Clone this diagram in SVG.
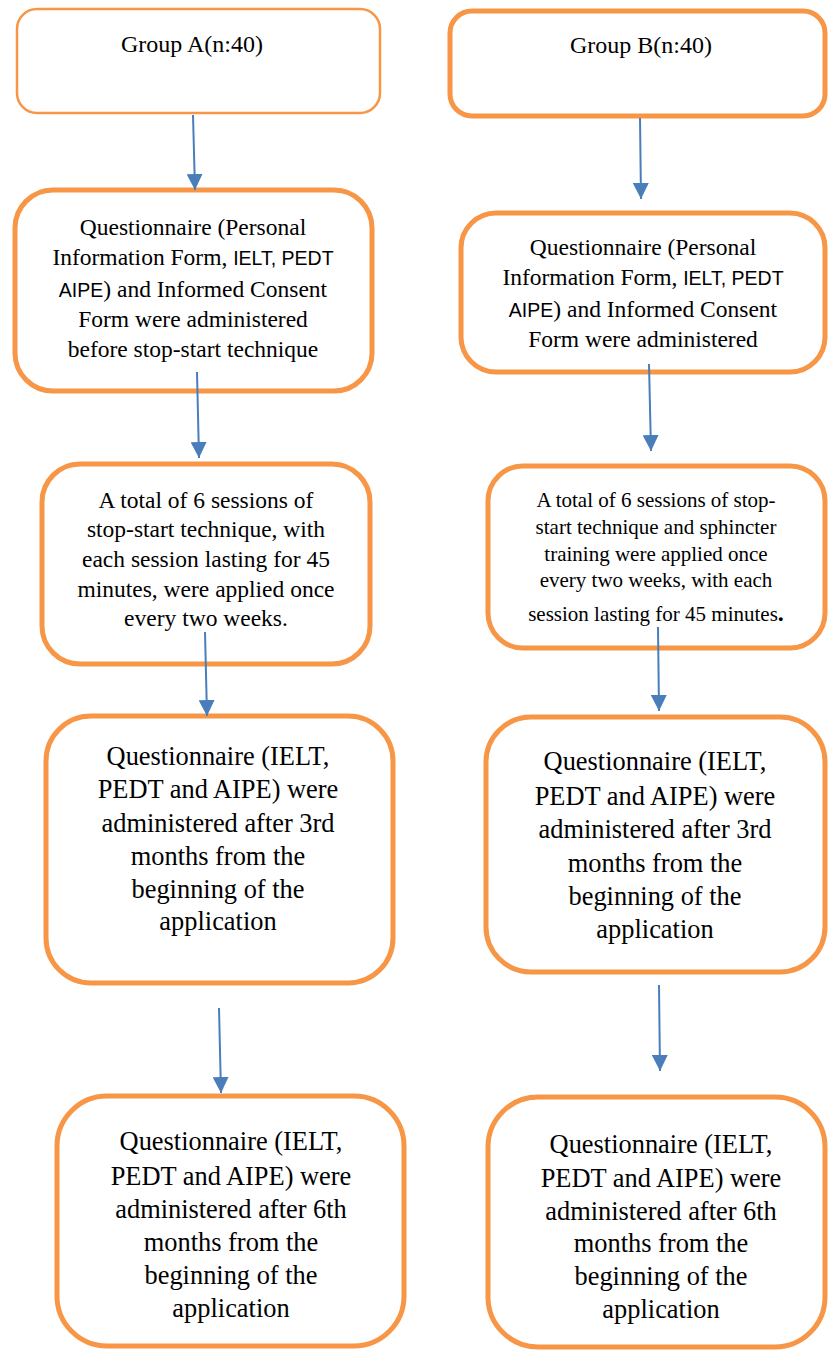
<svg xmlns="http://www.w3.org/2000/svg" width="828" height="1350" viewBox="0 0 828 1350">
<style>
.box{fill:#fff;stroke:#F79646;stroke-width:5}
.thin{stroke-width:2.5}
.t{font-family:"Liberation Serif","Times New Roman",serif;fill:#000;text-anchor:middle}
.s{font-family:"Liberation Sans",Arial,sans-serif;font-size:19.5px}
.conn{stroke:#4A7EBB;stroke-width:2;fill:none;marker-end:url(#ah)}
</style>
<defs>
<marker id="ah" markerUnits="userSpaceOnUse" markerWidth="16" markerHeight="16" viewBox="0 0 16 16" refX="16" refY="8" orient="auto">
<path d="M0,0 L16,8 L0,16 Z" fill="#4A7EBB"/>
</marker>
</defs>
<rect width="828" height="1350" fill="#fff"/>
<g id="groupA">
<rect class="box thin" x="17" y="9" width="363" height="104" rx="20"/>
<text class="t" font-size="24" x="192" y="52">Group A(n:40)</text>
</g>
<g id="groupB">
<rect class="box" x="450" y="11" width="375" height="105" rx="22"/>
<text class="t" font-size="24" x="641" y="53">Group B(n:40)</text>
</g>
<g id="a2">
<rect class="box" x="15" y="190" width="357" height="201" rx="38"/>
<text class="t" font-size="23.5"><tspan x="193" y="235">Questionnaire (Personal</tspan><tspan x="193" y="265">Information Form, <tspan class="s">IELT, PEDT</tspan></tspan><tspan x="193" y="297"><tspan class="s">AIPE</tspan>) and Informed Consent</tspan><tspan x="193" y="327">Form were administered</tspan><tspan x="193" y="357">before stop-start technique</tspan></text>
</g>
<g id="b2">
<rect class="box" x="461" y="213" width="364" height="159" rx="35"/>
<text class="t" font-size="23.5"><tspan x="643" y="255">Questionnaire (Personal</tspan><tspan x="643" y="285">Information Form, <tspan class="s">IELT, PEDT</tspan></tspan><tspan x="643" y="317"><tspan class="s">AIPE</tspan>) and Informed Consent</tspan><tspan x="643" y="347">Form were administered</tspan></text>
</g>
<g id="a3">
<rect class="box" x="42" y="464" width="328" height="200" rx="38"/>
<text class="t" font-size="23.5"><tspan x="206" y="508">A total of 6 sessions of</tspan><tspan x="206" y="537">stop-start technique, with</tspan><tspan x="206" y="567">each session lasting for 45</tspan><tspan x="206" y="597">minutes, were applied once</tspan><tspan x="206" y="626">every two weeks.</tspan></text>
</g>
<g id="b3">
<rect class="box" x="488" y="466" width="337" height="182" rx="35"/>
<text class="t" font-size="21"><tspan x="656" y="507">A total of 6 sessions of stop-</tspan><tspan x="656" y="534">start technique and sphincter</tspan><tspan x="656" y="561">training were applied once</tspan><tspan x="656" y="587">every two weeks, with each</tspan><tspan x="656" y="621">session lasting for 45 minutes<tspan font-weight="bold" font-size="24">.</tspan></tspan></text>
</g>
<g id="a4">
<rect class="box" x="46" y="716" width="347" height="267" rx="45"/>
<text class="t" font-size="26.4"><tspan x="218" y="765">Questionnaire (IELT,</tspan><tspan x="218" y="798">PEDT and AIPE) were</tspan><tspan x="218" y="832">administered after 3rd</tspan><tspan x="218" y="865">months from the</tspan><tspan x="218" y="898">beginning of the</tspan><tspan x="218" y="930">application</tspan></text>
</g>
<g id="b4">
<rect class="box" x="486" y="717" width="339" height="255" rx="45"/>
<text class="t" font-size="26.4"><tspan x="655" y="770">Questionnaire (IELT,</tspan><tspan x="655" y="805">PEDT and AIPE) were</tspan><tspan x="655" y="838">administered after 3rd</tspan><tspan x="655" y="872">months from the</tspan><tspan x="655" y="905">beginning of the</tspan><tspan x="655" y="938">application</tspan></text>
</g>
<g id="a5">
<rect class="box" x="57" y="1096" width="347" height="250" rx="50"/>
<text class="t" font-size="26.4"><tspan x="231" y="1150">Questionnaire (IELT,</tspan><tspan x="231" y="1185">PEDT and AIPE) were</tspan><tspan x="231" y="1218">administered after 6th</tspan><tspan x="231" y="1251">months from the</tspan><tspan x="231" y="1284">beginning of the</tspan><tspan x="231" y="1317">application</tspan></text>
</g>
<g id="b5">
<rect class="box" x="488" y="1097" width="337" height="250" rx="50"/>
<text class="t" font-size="26.4"><tspan x="661" y="1153">Questionnaire (IELT,</tspan><tspan x="661" y="1187">PEDT and AIPE) were</tspan><tspan x="661" y="1220">administered after 6th</tspan><tspan x="661" y="1252">months from the</tspan><tspan x="661" y="1285">beginning of the</tspan><tspan x="661" y="1318">application</tspan></text>
</g>
<g id="connectors">
<line class="conn" x1="193" y1="115" x2="195" y2="190"/>
<line class="conn" x1="640" y1="118" x2="641" y2="199"/>
<line class="conn" x1="197" y1="372" x2="199" y2="458"/>
<line class="conn" x1="649" y1="364" x2="651" y2="451"/>
<line class="conn" x1="205" y1="632" x2="207" y2="716"/>
<line class="conn" x1="658" y1="627" x2="659" y2="711"/>
<line class="conn" x1="219" y1="1008" x2="221" y2="1093"/>
<line class="conn" x1="659" y1="985" x2="660" y2="1071"/>
</g>
</svg>
